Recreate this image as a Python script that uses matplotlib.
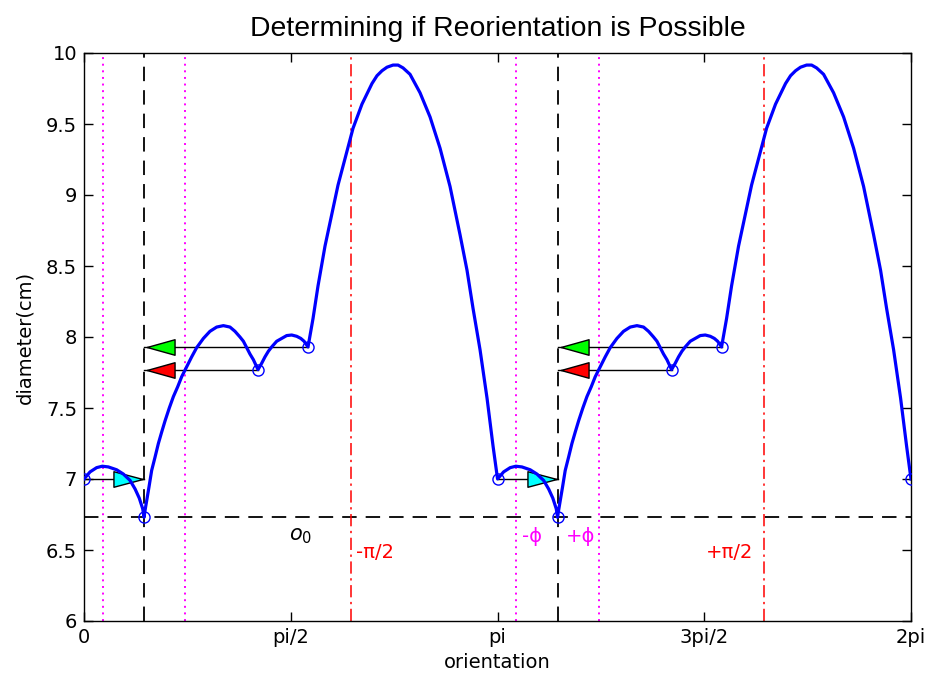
import matplotlib
matplotlib.use('Agg')
import matplotlib.pyplot as plt
import numpy as np

plt.rcParams['font.family'] = ['DejaVu Sans']

# diameter (cm) vs orientation (rad) -- first half turn
orient_a = [0.000, 0.046, 0.096, 0.139, 0.185, 0.248, 0.299, 0.350, 0.388, 0.420,
            0.446, 0.456, 0.464, 0.494, 0.514, 0.540, 0.565, 0.590, 0.616, 0.648,
            0.679, 0.712, 0.742, 0.780, 0.818, 0.856, 0.907, 0.957, 1.008, 1.059,
            1.109, 1.147, 1.185, 1.211, 1.236, 1.261, 1.287, 1.307, 1.322, 1.350,
            1.375, 1.401, 1.426, 1.464, 1.502, 1.540, 1.578, 1.616, 1.647, 1.672,
            1.702, 1.740, 1.778, 1.831, 1.884, 1.930, 1.998, 2.044, 2.112, 2.188,
            2.226, 2.264, 2.302, 2.348, 2.386, 2.424, 2.477, 2.553, 2.629, 2.705,
            2.781, 2.857, 2.910, 2.956, 3.009, 3.062, 3.108, 3.142]
diam_a = [7.00, 7.05, 7.08, 7.09, 7.085, 7.065, 7.035, 6.99, 6.93, 6.865,
          6.79, 6.73, 6.78, 6.945, 7.06, 7.155, 7.25, 7.33, 7.41, 7.50,
          7.58, 7.65, 7.72, 7.79, 7.86, 7.925, 7.99, 8.04, 8.07, 8.08,
          8.07, 8.04, 8.00, 7.97, 7.925, 7.88, 7.84, 7.80, 7.77, 7.815,
          7.86, 7.90, 7.93, 7.97, 7.99, 8.01, 8.014, 8.005, 7.99, 7.97,
          7.93, 8.13, 8.36, 8.64, 8.87, 9.07, 9.31, 9.47, 9.64, 9.785,
          9.84, 9.875, 9.90, 9.915, 9.915, 9.895, 9.85, 9.72, 9.55, 9.33,
          9.06, 8.72, 8.47, 8.20, 7.91, 7.57, 7.23, 7.00]

# second half turn
orient_b = [3.188, 3.238, 3.281, 3.327, 3.390, 3.441, 3.492, 3.530, 3.562,
            3.588, 3.598, 3.606, 3.636, 3.656, 3.682, 3.707, 3.732, 3.758, 3.790,
            3.821, 3.854, 3.884, 3.922, 3.960, 3.998, 4.049, 4.099, 4.150, 4.201,
            4.251, 4.289, 4.327, 4.353, 4.378, 4.403, 4.429, 4.449, 4.464, 4.492,
            4.517, 4.543, 4.568, 4.606, 4.644, 4.682, 4.720, 4.758, 4.789, 4.814,
            4.844, 4.882, 4.920, 4.973, 5.026, 5.072, 5.140, 5.186, 5.254, 5.330,
            5.368, 5.406, 5.444, 5.490, 5.528, 5.566, 5.619, 5.695, 5.771, 5.847,
            5.923, 5.999, 6.052, 6.098, 6.151, 6.204, 6.250, 6.283]
diam_b = [7.05, 7.08, 7.09, 7.085, 7.065, 7.035, 6.99, 6.93, 6.865,
          6.79, 6.73, 6.78, 6.945, 7.06, 7.155, 7.25, 7.33, 7.41, 7.50,
          7.58, 7.65, 7.72, 7.79, 7.86, 7.925, 7.99, 8.04, 8.07, 8.08,
          8.07, 8.04, 8.00, 7.97, 7.925, 7.88, 7.84, 7.80, 7.77, 7.815,
          7.86, 7.90, 7.93, 7.97, 7.99, 8.01, 8.014, 8.005, 7.99, 7.97,
          7.93, 8.13, 8.36, 8.64, 8.87, 9.07, 9.31, 9.47, 9.64, 9.785,
          9.84, 9.875, 9.90, 9.915, 9.915, 9.895, 9.85, 9.72, 9.55, 9.33,
          9.06, 8.72, 8.47, 8.20, 7.91, 7.57, 7.23, 7.00]

# breakpoints (circles)
break_orient = [0.000, 0.456, 1.322, 1.702, 3.142, 3.598, 4.464, 4.844, 6.283]
break_diam = [7.00, 6.73, 7.77, 7.93, 7.00, 6.73, 7.77, 7.93, 7.00]

# minimum-diameter orientations o0 and the tolerance phi
min_orient = [0.456, 3.598]
min_diam = 6.73
phi = 0.315

# arrows: start orientation, diameter, colour, end orientation (o0 of that half)
arrow_start = [1.702, 1.322, 0.000, 4.844, 4.464, 3.142]
arrow_diam = [7.93, 7.77, 7.00, 7.93, 7.77, 7.00]
arrow_color = ['#00ff00', '#ff0000', '#00ffff', '#00ff00', '#ff0000', '#00ffff']
arrow_target = [0.456, 0.456, 0.456, 3.598, 3.598, 3.598]

xtick_vals = [0, np.pi / 2, np.pi, 3 * np.pi / 2, 2 * np.pi]
xtick_labels = ['0', 'pi/2', 'pi', '3pi/2', '2pi']
ytick_vals = [6, 6.5, 7, 7.5, 8, 8.5, 9, 9.5, 10]
ytick_labels = ['6', '6.5', '7', '7.5', '8', '8.5', '9', '9.5', '10']

fig = plt.figure(figsize=(9.32, 6.84), dpi=100)
ax = fig.add_axes([84 / 932, 63 / 684, 827 / 932, 568 / 684])

# reference lines
ax.axhline(min_diam, color='k', lw=1.3, ls=(0, (8, 5)), zorder=1)
for o in min_orient:
    ax.axvline(o, color='k', lw=1.3, ls=(0, (8, 5)), zorder=1)
    ax.axvline(o - phi, color='#ff00ff', lw=1.4, ls=(0, (1, 2.4)), zorder=1)
    ax.axvline(o + phi, color='#ff00ff', lw=1.4, ls=(0, (1, 2.4)), zorder=1)
o_ref = min_orient[1]
ax.axvline(o_ref - np.pi / 2, color='r', lw=1.1, ls=(0, (8, 3, 1.5, 3)), zorder=1)
ax.axvline(o_ref + np.pi / 2, color='r', lw=1.1, ls=(0, (8, 3, 1.5, 3)), zorder=1)

# arrows (line + triangle head at o0)
left_tri = [(0.1, 0), (1.1, 0.28), (1.1, -0.28), (0.1, 0)]
right_tri = [(-0.05, 0), (-1.1, 0.28), (-1.1, -0.28), (-0.05, 0)]
for xs, yd, c, xt in zip(arrow_start, arrow_diam, arrow_color, arrow_target):
    ax.plot([xs, xt], [yd, yd], color='k', lw=1.0, zorder=2)
    tri = left_tri if xs > xt else right_tri
    ax.plot([xt], [yd], ls='none', marker=tri, ms=44, mfc=c, mec='k',
            mew=1.0, zorder=3)

# curve and breakpoints
ax.plot(orient_a + orient_b, diam_a + diam_b, color='#0000ff', lw=2.3, zorder=4,
        solid_joinstyle='round')
ax.plot(break_orient, break_diam, ls='none', marker='o', ms=8, mfc='none',
        mec='#0000ff', mew=1.0, zorder=5)

# annotations
ax.text(1.649, 6.60, r'$o_{\mathit{0}}$', fontsize=15, ha='center', va='center')
ax.text(2.07, 6.48, '-π/2', color='r', fontsize=14, ha='left', va='center')
ax.text(4.727, 6.48, '+π/2', color='r', fontsize=14, ha='left', va='center')
ax.text(3.404, 6.595, '-ϕ', color='#ff00ff', fontsize=14, ha='center', va='center')
ax.text(3.769, 6.595, '+ϕ', color='#ff00ff', fontsize=14, ha='center', va='center')

ax.set_xlim(0, 2 * np.pi)
ax.set_ylim(6, 10)
ax.set_xticks(xtick_vals)
ax.set_xticklabels(xtick_labels)
ax.set_yticks(ytick_vals)
ax.set_yticklabels(ytick_labels)
ax.tick_params(direction='in', top=True, right=True, length=6.5, width=1,
               labelsize=14, pad=5)
for s in ax.spines.values():
    s.set_linewidth(1.0)

ax.set_title('Determining if Reorientation is Possible', fontsize=20.4, pad=12,
             family=['Liberation Sans', 'DejaVu Sans'])
ax.set_xlabel('orientation', fontsize=14, labelpad=4)
ax.set_ylabel('diameter(cm)', fontsize=14, labelpad=8)

fig.savefig('out.png', dpi=100)
